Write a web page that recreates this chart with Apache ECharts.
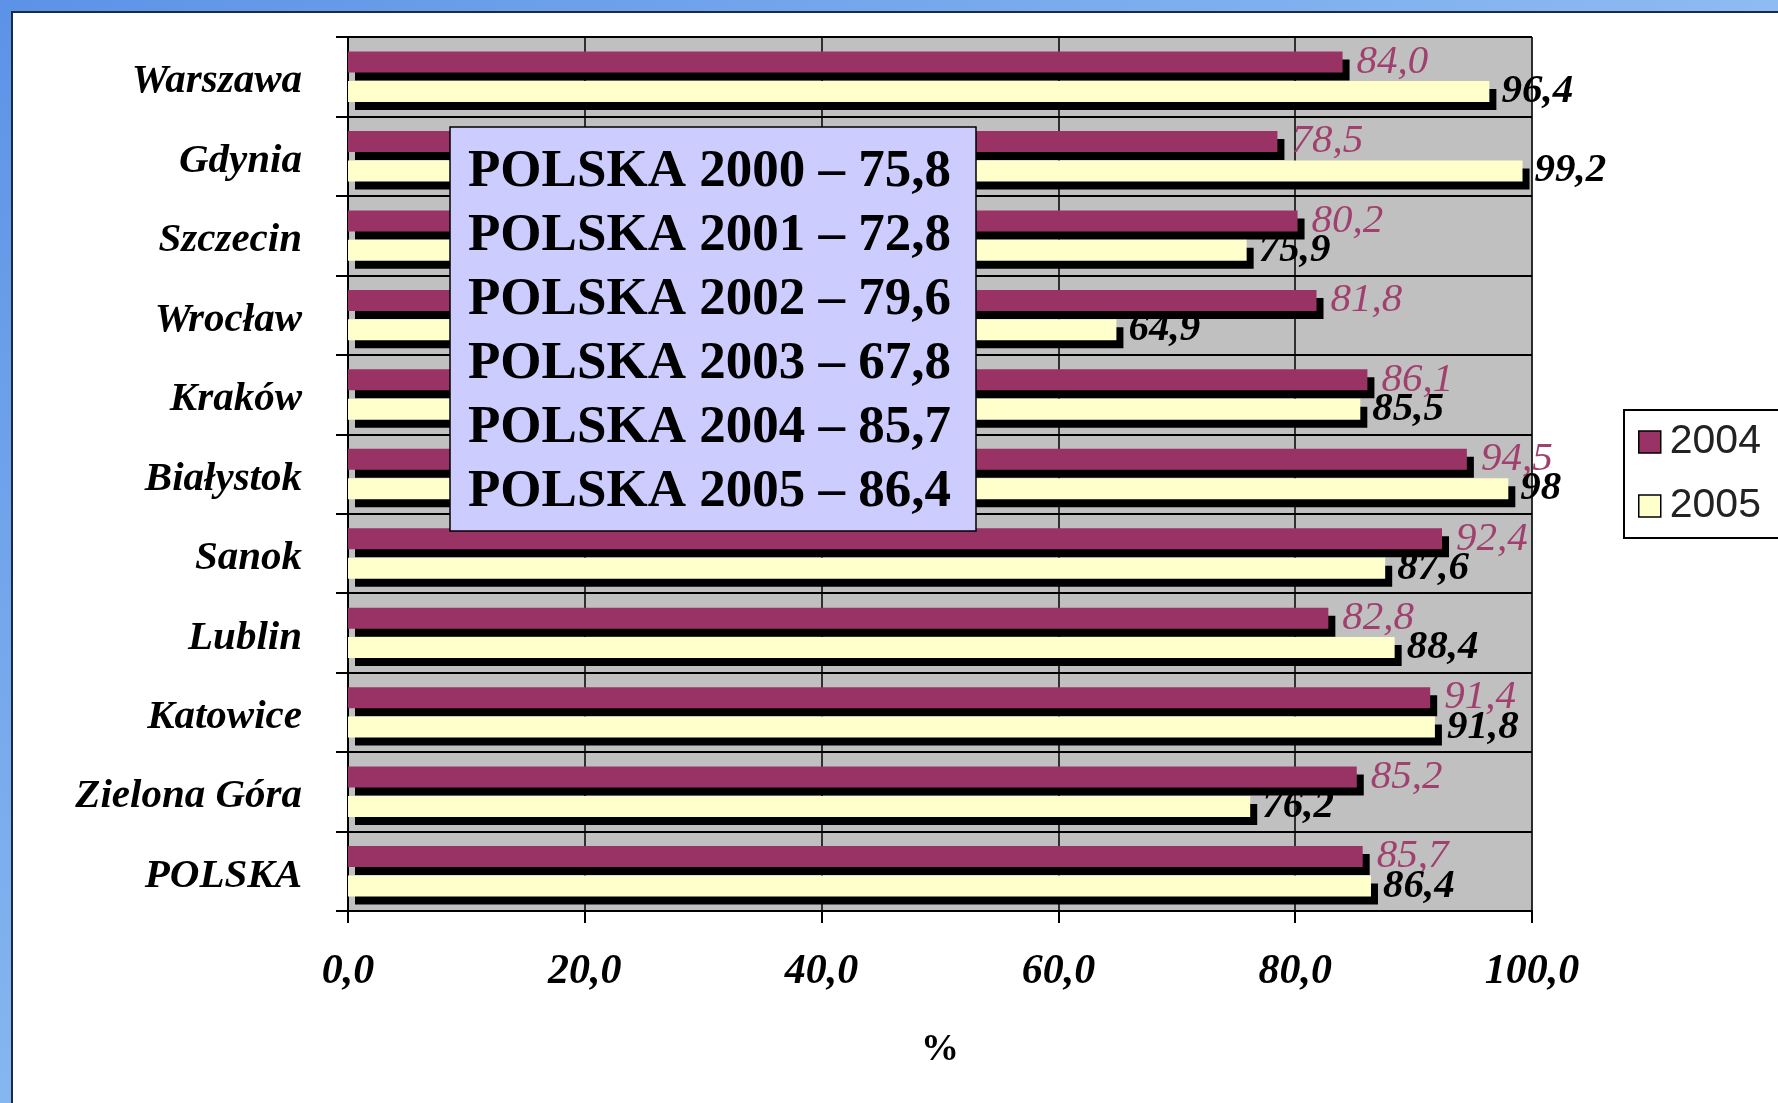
<!DOCTYPE html>
<html>
<head>
<meta charset="utf-8">
<script src="https://cdn.jsdelivr.net/npm/echarts@6/dist/echarts.min.js"></script>
<style>
html,body{margin:0;padding:0;background:#fff;}
#chart{width:1778px;height:1103px;}
</style>
</head>
<body>
<div id="chart"></div>
<script>
// ---- data ----
const categories = ['Warszawa','Gdynia','Szczecin','Wrocław','Kraków','Białystok','Sanok','Lublin','Katowice','Zielona Góra','POLSKA'];
const seriesNames = ['2004','2005'];
const values2004 = [84.0, 78.5, 80.2, 81.8, 86.1, 94.5, 92.4, 82.8, 91.4, 85.2, 85.7];
const values2005 = [96.4, 99.2, 75.9, 64.9, 85.5, 98, 87.6, 88.4, 91.8, 76.2, 86.4];
const xTickLabels = ['0,0','20,0','40,0','60,0','80,0','100,0'];
const polskaYears = ['2000','2001','2002','2003','2004','2005'];
const polskaValues = ['75,8','72,8','79,6','67,8','85,7','86,4'];
const axisName = '%';

const SERIF = '"Liberation Serif","Times New Roman",serif';
const SANS = '"Liberation Sans",Arial,sans-serif';

const chart = echarts.init(document.getElementById('chart'), null, {renderer:'canvas'});

const barShadow = {shadowColor:'#000', shadowBlur:0, shadowOffsetX:7, shadowOffsetY:8};

const boxText = polskaYears.map((y,i)=>'POLSKA ' + y + ' – ' + polskaValues[i]).join('\n');

chart.setOption({
  animation:false,
  backgroundColor:'#ffffff',
  grid:{left:348, right:246, top:37, bottom:192, show:true, backgroundColor:'#C0C0C0', borderColor:'#808080', borderWidth:1, containLabel:false},
  legend:{
    data:seriesNames,
    orient:'vertical',
    left:1624, top:410,
    backgroundColor:'#ffffff',
    borderColor:'#000', borderWidth:2, borderRadius:0,
    padding:[10,40,10,14],
    itemWidth:22, itemHeight:22, itemGap:20,
    icon:'rect',
    itemStyle:{borderColor:'#000', borderWidth:1.5, shadowColor:'rgba(0,0,0,0)', shadowBlur:0, shadowOffsetX:0, shadowOffsetY:0},
    textStyle:{fontFamily:SANS, fontSize:41, color:'#222', lineHeight:44, padding:[0,0,0,4]}
  },
  xAxis:{
    type:'value', min:0, max:100, interval:20,
    name:axisName, nameLocation:'middle', nameGap:120,
    nameTextStyle:{fontFamily:SERIF, fontSize:38, fontWeight:'bold', color:'#000'},
    axisLine:{show:true, lineStyle:{color:'#000', width:2}},
    axisTick:{show:true, length:12, lineStyle:{color:'#000', width:2}},
    axisLabel:{margin:40, fontFamily:SERIF, fontStyle:'italic', fontWeight:'bold', fontSize:42, color:'#000',
      formatter:function(v){return xTickLabels[Math.round(v/20)];}},
    splitLine:{show:true, lineStyle:{color:'#000', width:1.5}}
  },
  yAxis:{
    type:'category', data:categories, inverse:true,
    axisLine:{show:true, lineStyle:{color:'#000', width:2}},
    axisTick:{show:true, length:12, lineStyle:{color:'#000', width:2}},
    axisLabel:{margin:46, color:'#000',
      formatter:function(v){return '{c|' + v + '}';},
      rich:{c:{fontFamily:SERIF, fontStyle:'italic', fontWeight:'bold', fontSize:41, color:'#000', padding:[10,0,0,0]}}},
    splitLine:{show:true, lineStyle:{color:'#000', width:2}}
  },
  series:[
    {
      name:seriesNames[0], type:'bar', data:values2004,
      barWidth:21, barGap:'40%',
      itemStyle:Object.assign({color:'#993366', borderWidth:0}, barShadow),
      label:{show:true, position:'right', distance:14, fontFamily:SERIF, fontStyle:'italic', fontSize:41, color:'#A0406E',
        formatter:function(p){return p.value.toFixed(1).replace('.',',');}},
      z:2
    },
    {
      name:seriesNames[1], type:'bar', data:values2005,
      barWidth:21, barGap:'40%',
      itemStyle:Object.assign({color:'#FFFFCC', borderWidth:0}, barShadow),
      label:{show:true, position:'right', distance:12, fontFamily:SERIF, fontStyle:'italic', fontWeight:'bold', fontSize:41, color:'#000',
        formatter:function(p){return String(p.value).replace('.',',');}},
      z:3
    }
  ],
  graphic:[
    {type:'rect', z:200, shape:{x:0,y:0,width:1778,height:11},
      style:{fill:new echarts.graphic.LinearGradient(0,0,1,0,[{offset:0,color:'#5C93E6'},{offset:1,color:'#8DBBF2'}])}},
    {type:'rect', z:200, shape:{x:0,y:0,width:11,height:1103},
      style:{fill:new echarts.graphic.LinearGradient(0,0,0,1,[{offset:0,color:'#5C93E6'},{offset:1,color:'#86B6F0'}])}},
    {type:'polyline', z:200, shape:{points:[[12,1103],[12,12],[1778,12]]}, style:{stroke:'#1d2a45', lineWidth:2, fill:null}},
    {type:'rect', z:100, shape:{x:450,y:127,width:526,height:404},
      style:{fill:'#CCCCFF', stroke:'#000', lineWidth:1.5}},
    {type:'text', z:101, x:468, y:140,
      style:{text:boxText, font:'bold 53px ' + SERIF, fill:'#000', lineHeight:64, textVerticalAlign:'top', verticalAlign:'top'}}
  ]
});
</script>
</body>
</html>
